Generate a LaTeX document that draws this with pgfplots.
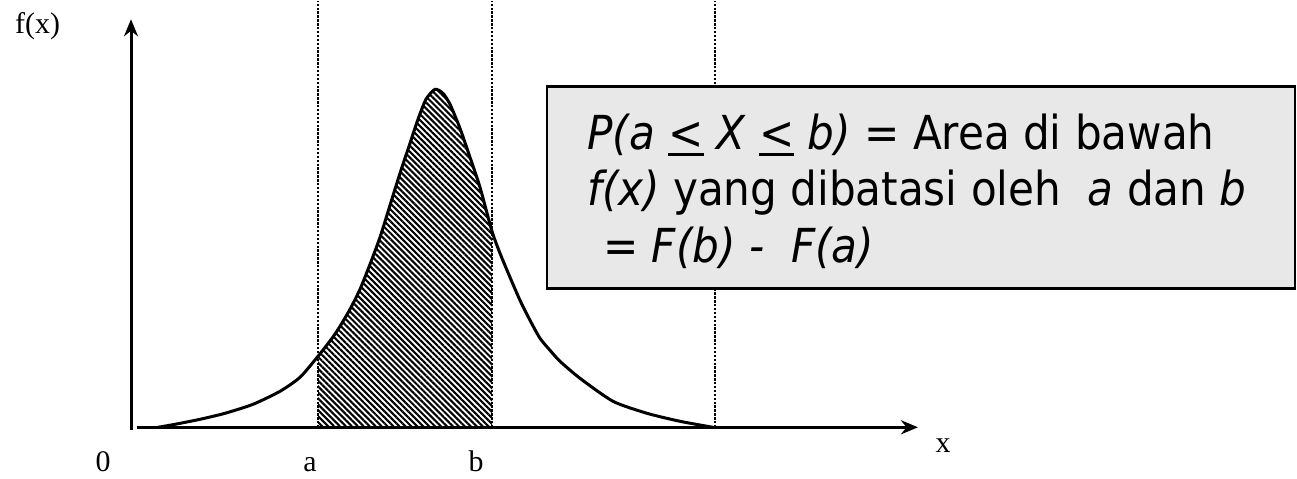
\documentclass[border=0pt]{standalone}
\usepackage{fontspec}
\setmainfont{Liberation Serif}
\newfontfamily\boxfont{DejaVu Sans Condensed}
\usepackage{pgfplots}
\usepackage{pgfplotstable}
\pgfplotsset{compat=1.18}
\usetikzlibrary{arrows.meta,patterns.meta}

\definecolor{boxgray}{RGB}{232,232,232}

% underlined relation sign with a heavy rule
\newcommand\ule[1]{\setbox0\hbox{#1}\rlap{\rule[-7bp]{\wd0}{3.2bp}}\box0\relax}

% density curve f(x)
\pgfplotstableread{
x   h
158 0
175 3
200 8
225 14
253 23
280 36
300 50
318 71
332 89
340 101
350 118
360 138
370 163
380 190
390 222
400 254
410 284
418 308
426 328
435 338
443 334
450 323
460 299
470 270
480 240
492 196
500 174
510 150
520 127
530 107
540 89
550 77
560 66
580 49
613 26
647 14
680 6
713 0
}\density

\begin{document}
\begin{tikzpicture}
\begin{axis}[
  width=1297bp, height=477bp, scale only axis,
  xmin=0, xmax=1297, ymin=-51, ymax=426,
  hide axis, clip=false]
\path (axis cs:0,-51) rectangle (axis cs:1297,426);

% shaded probability region between a and b
\addplot[draw=none, pattern={Lines[angle=-45,distance=4.2bp,line width=2.1bp]},
  restrict x to domain=318:492] table[x=x,y=h]{\density} \closedcycle;

% vertical guides at a, b and the end of the support
\tikzset{guide/.style={line width=2.6bp, dash pattern=on 2.4bp off 1.5bp}}
\draw[guide] (axis cs:318,0) -- (axis cs:318,426);
\draw[guide] (axis cs:492,0) -- (axis cs:492,426);
\draw[guide] (axis cs:715,0) -- (axis cs:715,426);

% the density
\addplot[line width=3bp, smooth, tension=0.4] table[x=x,y=h]{\density};

% axes
\draw[line width=3bp, -{Stealth[length=17bp,width=14bp]}] (axis cs:137,0) -- (axis cs:918,0);
\draw[line width=3bp, -{Stealth[length=17bp,width=14bp]}] (axis cs:131,-3) -- (axis cs:131,408);

% axis labels
\node[anchor=base west, inner sep=0, font=\fontsize{30}{34}\selectfont] at (axis cs:15,394) {f(x)};
\node[anchor=base, inner sep=0, font=\fontsize{30}{34}\selectfont] at (axis cs:103,-44) {0};
\node[anchor=base, inner sep=0, font=\fontsize{30}{34}\selectfont] at (axis cs:310,-44) {a};
\node[anchor=base, inner sep=0, font=\fontsize{30}{34}\selectfont] at (axis cs:476,-44) {b};
\node[anchor=base, inner sep=0, font=\fontsize{30}{34}\selectfont] at (axis cs:943,-25) {x};

% explanation box
\draw[line width=2.5bp, fill=boxgray] (axis cs:547,341) rectangle (axis cs:1295,139);
\node[anchor=base west, inner sep=0, font=\boxfont\fontsize{47}{56}\selectfont] at (axis cs:587,278)
  {{\itshape P(a \ule{<} X \ule{<} b)} = Area di bawah};
\node[anchor=base west, inner sep=0, font=\boxfont\fontsize{47}{56}\selectfont] at (axis cs:587,222)
  {{\itshape f(x)} yang dibatasi oleh\ \ {\itshape a} dan\ {\itshape b}};
\node[anchor=base west, inner sep=0, font=\boxfont\fontsize{47}{56}\selectfont] at (axis cs:603,165)
  {\itshape = F(b) -\ \ F(a)};
\end{axis}
\end{tikzpicture}
\end{document}
